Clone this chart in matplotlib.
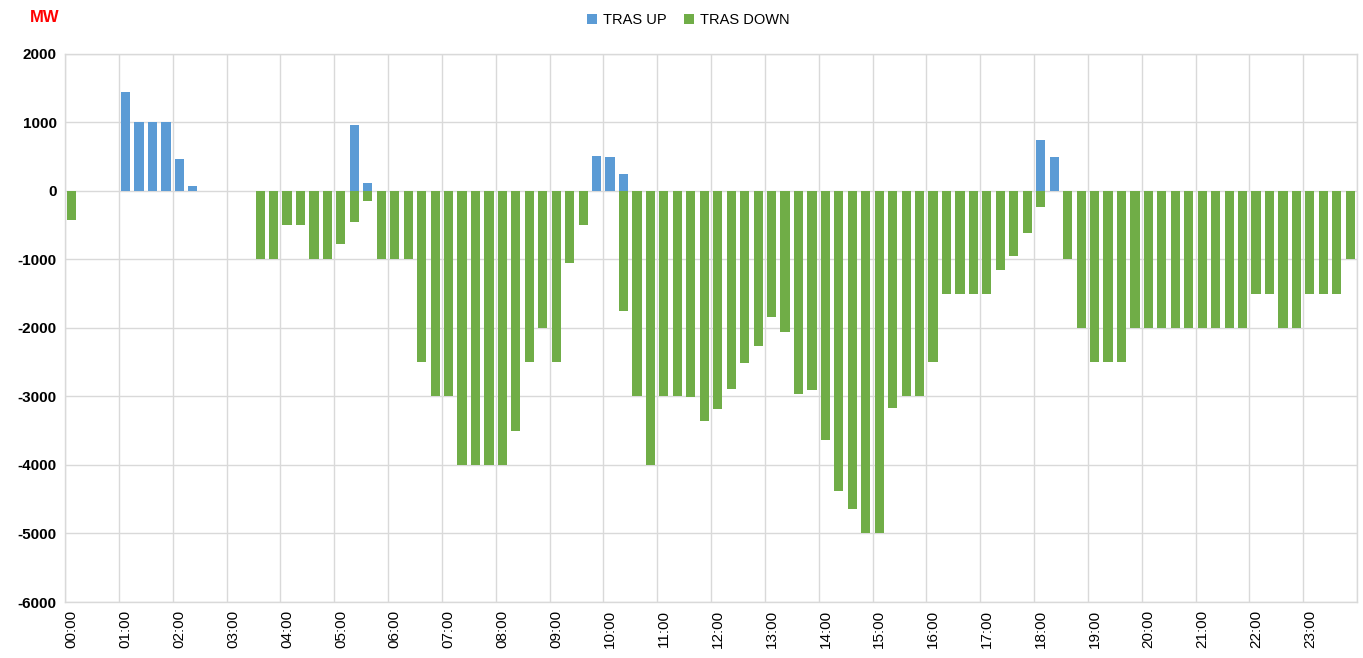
import matplotlib
matplotlib.use("Agg")
from matplotlib import pyplot as plt
import numpy as np

plt.rcParams['font.family'] = ['Liberation Sans', 'DejaVu Sans']

# 96 quarter-hour slots, MW
tras_up = [0, 0, 0, 0, 1450, 1000, 1000, 1000, 460, 70,
           0, 0, 0, 0, 0, 0, 0, 0, 0, 0,
           0, 960, 120, 0, 0, 0, 0, 0, 0, 0,
           0, 0, 0, 0, 0, 0, 0, 0, 0, 510,
           490, 250, 0, 0, 0, 0, 0, 0, 0, 0,
           0, 0, 0, 0, 0, 0, 0, 0, 0, 0,
           0, 0, 0, 0, 0, 0, 0, 0, 0, 0,
           0, 0, 740, 500, 0, 0, 0, 0, 0, 0,
           0, 0, 0, 0, 0, 0, 0, 0, 0, 0,
           0, 0, 0, 0, 0, 0]

tras_down = [-420, 0, 0, 0, 0, 0, 0, 0, 0, 0,
             0, 0, 0, 0, -1000, -1000, -500, -500, -1000, -1000,
             -770, -450, -140, -1000, -1000, -1000, -2500, -3000, -3000, -4000,
             -4000, -4000, -4000, -3500, -2500, -2000, -2500, -1050, -500, 0,
             0, -1750, -3000, -4000, -3000, -3000, -3010, -3360, -3180, -2890,
             -2510, -2270, -1840, -2060, -2970, -2900, -3630, -4380, -4640, -5000,
             -5000, -3170, -3000, -3000, -2500, -1500, -1500, -1500, -1500, -1160,
             -950, -610, -230, 0, -1000, -2000, -2500, -2500, -2500, -2000,
             -2000, -2000, -2000, -2000, -2000, -2000, -2000, -2000, -1500, -1500,
             -2000, -2000, -1500, -1500, -1500, -1000]

hour_labels = ["%02d:00" % h for h in range(24)]

x = np.arange(len(tras_up))

fig = plt.figure(figsize=(13.63, 6.58), dpi=100)
ax = fig.add_axes([0.0477, 0.0851, 0.9479, 0.8329])

grid_col = '#D9D9D9'
ax.bar(x, tras_up, width=0.68, color='#5B9BD5', linewidth=0, label='TRAS UP', zorder=3)
ax.bar(x, tras_down, width=0.68, color='#70AD47', linewidth=0, label='TRAS DOWN', zorder=3)

ax.set_xlim(-0.5, 95.5)
ax.set_ylim(-6000, 2000)
ax.set_yticks(range(-6000, 2001, 1000))
ax.set_yticklabels([str(v) for v in range(-6000, 2001, 1000)], fontsize=11, fontweight='bold')
ax.set_xticks(x[::4])
ax.set_xticklabels(hour_labels, rotation=90, fontsize=11)
ax.set_xticks(np.arange(-0.5, 96, 4), minor=True)
ax.tick_params(axis='both', which='both', length=0)
ax.tick_params(axis='x', pad=6)
ax.tick_params(axis='y', pad=6)

ax.grid(axis='y', color=grid_col, linewidth=1, zorder=0)
ax.grid(axis='x', which='minor', color=grid_col, linewidth=1, zorder=0)
ax.grid(axis='x', which='major', visible=False)
for s in ax.spines.values():
    s.set_color(grid_col)
    s.set_linewidth(1)

fig.text(0.022, 0.985, "MW", color='red', fontsize=12, fontweight='bold', va='top')
fig.legend(loc='upper center', bbox_to_anchor=(0.505, 1.0), ncol=2, frameon=False,
           fontsize=10.5, handlelength=0.7, handleheight=0.7, columnspacing=1.2, handletextpad=0.4)

fig.savefig("out.png", dpi=100)
